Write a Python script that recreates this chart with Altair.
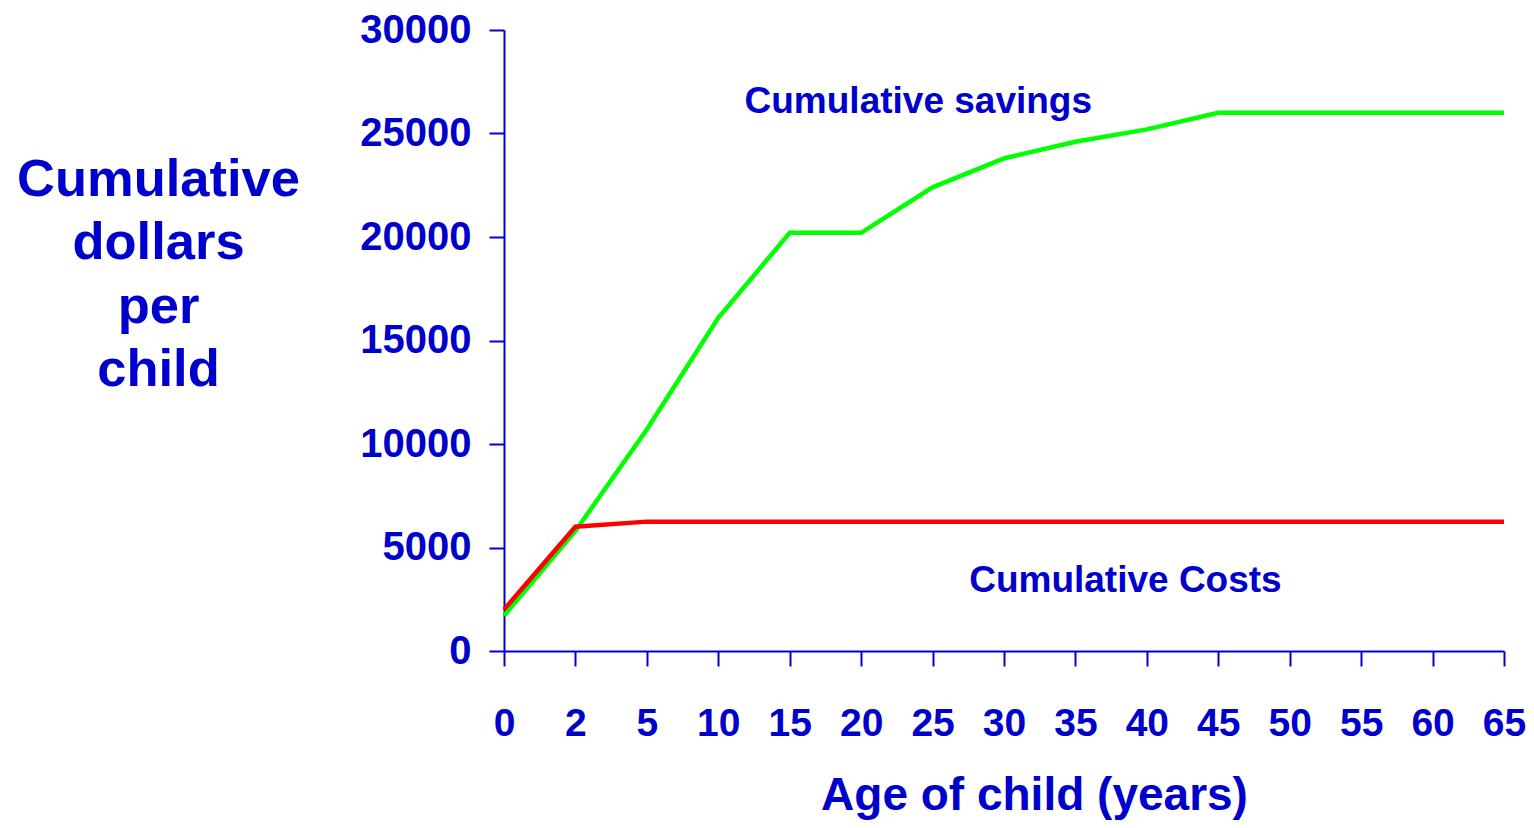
import altair as alt
import pandas as pd

ages = ["0", "2", "5", "10", "15", "20", "25", "30", "35", "40", "45", "50", "55", "60", "65"]
savings = [1700, 5800, 10700, 16100, 20200, 20200, 22400, 23800, 24600, 25200, 26000, 26000, 26000, 26000, 26000]
costs = [2000, 6000, 6250, 6250, 6250, 6250, 6250, 6250, 6250, 6250, 6250, 6250, 6250, 6250, 6250]

label_text = ["Cumulative savings", "Cumulative Costs"]
label_pos = [5.8, 8.7]
label_val = [26520, 3380]

BLUE = "#0000CC"
FONT = "Liberation Sans"

rows = []
for i, a in enumerate(ages):
    rows.append({"idx": i, "age": a, "value": savings[i], "series": "savings"})
for i, a in enumerate(ages):
    rows.append({"idx": i, "age": a, "value": costs[i], "series": "costs"})
df = pd.DataFrame(rows)

labels_df = pd.DataFrame({"idx": label_pos, "value": label_val, "text": label_text})

label_expr = "[" + ",".join("'%s'" % a for a in ages) + "][datum.value]"

x_enc = alt.X(
    "idx:Q",
    scale=alt.Scale(domain=[0, len(ages) - 1], nice=False, zero=False),
    axis=alt.Axis(
        values=list(range(len(ages))),
        labelExpr=label_expr,
        title="Age of child (years)",
        titleFont=FONT, titleFontSize=46, titleFontWeight="bold", titleColor=BLUE,
        titleX=530, titleY=158, titleBaseline="alphabetic", titleAnchor="middle",
        labelFont=FONT, labelFontSize=39, labelFontWeight="bold", labelColor=BLUE,
        labelPadding=38, labelFlush=False,
        tickSize=15, tickColor=BLUE, tickWidth=2,
        domainColor=BLUE, domainWidth=2, grid=False,
    ),
)

y_enc = alt.Y(
    "value:Q",
    scale=alt.Scale(domain=[0, 30000], nice=False),
    axis=alt.Axis(
        values=[0, 5000, 10000, 15000, 20000, 25000, 30000],
        format="d",
        title=["Cumulative", "dollars", "per", "child"],
        titleFont=FONT, titleFontSize=52.5, titleFontWeight="bold", titleColor=BLUE,
        titleAngle=0, titleAlign="center", titleBaseline="top",
        titleX=-346, titleY=124, titleLineHeight=63.5,
        labelFont=FONT, labelFontSize=40, labelFontWeight="bold", labelColor=BLUE,
        labelPadding=18,
        tickSize=15, tickColor=BLUE, tickWidth=2,
        domainColor=BLUE, domainWidth=2, grid=False,
    ),
)

lines = alt.Chart(df).mark_line(strokeWidth=4.5).encode(
    x=x_enc,
    y=y_enc,
    color=alt.Color("series:N", scale=alt.Scale(domain=["savings", "costs"], range=["#00FF00", "#FF0000"]), legend=None),
    order=alt.Order("idx:Q"),
    detail="series:N",
)

texts = alt.Chart(labels_df).mark_text(
    font=FONT, fontSize=37, fontWeight="bold", color=BLUE, align="center", baseline="middle"
).encode(
    x=alt.X("idx:Q"),
    y=alt.Y("value:Q"),
    text="text:N",
)

chart = alt.layer(lines, texts).properties(
    width=1000,
    height=621,
    background="white",
    autosize=alt.AutoSizeParams(type="none"),
    padding={"left": 496, "top": 22, "right": 22, "bottom": 169},
).configure_view(stroke=None, strokeWidth=0)

chart.save("out.html", embed_options={"renderer": "svg", "actions": False})
